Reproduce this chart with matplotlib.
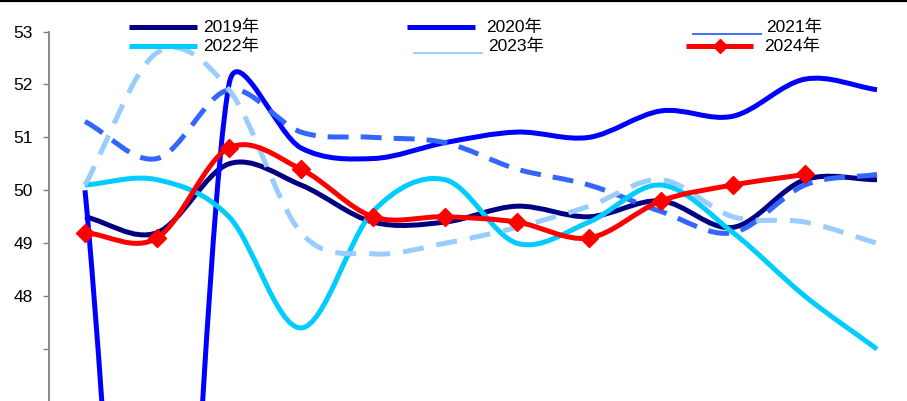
import math
import matplotlib
matplotlib.use("Agg")
import matplotlib.pyplot as plt
from matplotlib.path import Path
from matplotlib.patches import PathPatch
from matplotlib.lines import Line2D

plt.rcParams['font.family'] = ['Liberation Sans', 'Noto Sans CJK SC', 'DejaVu Sans']

months = [1, 2, 3, 4, 5, 6, 7, 8, 9, 10, 11, 12]
pmi_2019 = [49.5, 49.2, 50.5, 50.1, 49.4, 49.4, 49.7, 49.5, 49.8, 49.3, 50.2, 50.2]
pmi_2020 = [50.0, 35.7, 52.0, 50.8, 50.6, 50.9, 51.1, 51.0, 51.5, 51.4, 52.1, 51.9]
pmi_2021 = [51.3, 50.6, 51.9, 51.1, 51.0, 50.9, 50.4, 50.1, 49.6, 49.2, 50.1, 50.3]
pmi_2022 = [50.1, 50.2, 49.5, 47.4, 49.6, 50.2, 49.0, 49.4, 50.1, 49.2, 48.0, 47.0]
pmi_2023 = [50.1, 52.6, 51.9, 49.2, 48.8, 49.0, 49.3, 49.7, 50.2, 49.5, 49.4, 49.0]
pmi_2024 = [49.2, 49.1, 50.8, 50.4, 49.5, 49.5, 49.4, 49.1, 49.8, 50.1, 50.3]
year_labels = ['2019年', '2020年', '2021年', '2022年', '2023年', '2024年']
y_ticks = [47, 48, 49, 50, 51, 52, 53]
y_tick_labels = ['', '48', '49', '50', '51', '52', '53']

W, H = 907, 401
fig = plt.figure(figsize=(W / 100, H / 100), dpi=100)
ax = fig.add_axes([49 / W, 0, (W - 49) / W, (H - 31.5) / H])
ax.set_xlim(0.5, 0.5 + (W - 49) / 72)
ax.set_ylim(46.02, 53)

# pixel scale used for Excel-like smoothing clamp
SX, SY = 72.0, 53.0


def smooth_path(xs, ys):
    """Excel-style smoothed line as cubic Bezier segments through the points."""
    n = len(xs)
    P = [(x * SX, y * SY) for x, y in zip(xs, ys)]
    verts = [(xs[0], ys[0])]
    codes = [Path.MOVETO]

    def dist(a, b):
        return math.hypot(a[0] - b[0], a[1] - b[1])

    for i in range(n - 1):
        p0 = P[max(i - 1, 0)]
        p1 = P[i]
        p2 = P[i + 1]
        p3 = P[min(i + 2, n - 1)]
        f0 = 1 / 3 if i == 0 else 1 / 6
        f1 = 1 / 3 if i + 2 > n - 1 else 1 / 6
        d12 = dist(p1, p2)
        t1 = ((p2[0] - p0[0]) * f0, (p2[1] - p0[1]) * f0)
        t2 = ((p3[0] - p1[0]) * f1, (p3[1] - p1[1]) * f1)
        l1 = math.hypot(*t1)
        l2 = math.hypot(*t2)
        if l1 > d12 / 2 and l1 > 0:
            t1 = (t1[0] * d12 / 2 / l1, t1[1] * d12 / 2 / l1)
        if l2 > d12 / 2 and l2 > 0:
            t2 = (t2[0] * d12 / 2 / l2, t2[1] * d12 / 2 / l2)
        c1 = (p1[0] + t1[0], p1[1] + t1[1])
        c2 = (p2[0] - t2[0], p2[1] - t2[1])
        for c in (c1, c2, p2):
            verts.append((c[0] / SX, c[1] / SY))
        codes += [Path.CURVE4] * 3
    return Path(verts, codes)


LW = 3.6
series = [
    (pmi_2019, '#000080', None),
    (pmi_2020, '#0000FF', None),
    (pmi_2021, '#3366FF', (4.2, 2.4)),
    (pmi_2022, '#00CCFF', None),
    (pmi_2023, '#99CCFF', (4.2, 2.6)),
    (pmi_2024, '#FF0000', None),
]
for z, (vals, col, dash) in enumerate(series):
    xs = months[:len(vals)]
    ls = 'solid' if dash is None else (0, dash)
    patch = PathPatch(smooth_path(xs, vals), fill=False, edgecolor=col, lw=LW,
                      linestyle=ls, capstyle='butt', joinstyle='round', zorder=2 + z)
    ax.add_patch(patch)

ax.plot(months[:len(pmi_2024)], pmi_2024, linestyle='none', marker='D',
        markersize=9, color='#FF0000', zorder=10)

ax.set_yticks(y_ticks)
ax.set_yticklabels(y_tick_labels, fontsize=12.5)
ax.set_xticks([])
for s in ['top', 'right', 'bottom']:
    ax.spines[s].set_visible(False)
ax.spines['left'].set_color('#808080')
ax.spines['left'].set_linewidth(1.3)
ax.tick_params(axis='y', direction='out', length=4.5, width=1.0, color='#808080',
               pad=7, labelcolor='black')

# top border line
fig.add_artist(Line2D([0, 1], [1 - 1.2 / H, 1 - 1.2 / H], transform=fig.transFigure,
                      color='black', lw=1.6))


def fx(px):
    return px / W


def fy(py):
    return 1 - py / H


legend_items = [
    (year_labels[0], '#000080', 129, 197, 27, 27, 203, LW, False),
    (year_labels[1], '#0000FF', 407, 475, 27, 27, 486, LW, False),
    (year_labels[2], '#3366FF', 692, 762, 34, 27, 766, 1.3, False),
    (year_labels[3], '#00CCFF', 129, 197, 46, 46, 203, LW, False),
    (year_labels[4], '#99CCFF', 413, 483, 53, 46, 488, 1.3, False),
    (year_labels[5], '#FF0000', 686, 753, 46, 46, 764, LW, True),
]
for lab, col, x0, x1, ly, ty, tx, lw, mk in legend_items:
    fig.add_artist(Line2D([fx(x0), fx(x1)], [fy(ly), fy(ly)], transform=fig.transFigure,
                          color=col, lw=lw, solid_capstyle='butt'))
    if mk:
        fig.add_artist(Line2D([fx((x0 + x1) / 2)], [fy(ly)], transform=fig.transFigure,
                              color=col, marker='D', markersize=7, linestyle='none'))
    fig.text(fx(tx), fy(ty), lab, fontsize=12.5, va='center', ha='left', color='black')

fig.savefig('out.png', dpi=100)
